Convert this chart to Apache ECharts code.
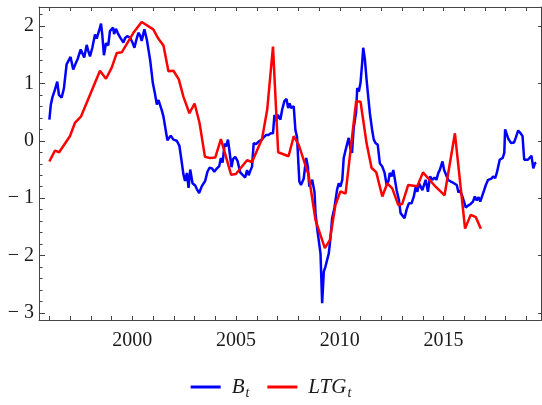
<!DOCTYPE html>
<html><head><meta charset="utf-8">
<script src="https://cdn.jsdelivr.net/npm/echarts@6/dist/echarts.min.js"></script>
<style>html,body{margin:0;padding:0;background:#fff}#c{width:542px;height:405px}</style>
</head><body><div id="c"></div>
<script>
// ---- data ----
const bYears = [1996.00,1996.07,1996.15,1996.27,1996.38,1996.46,1996.59,1996.70,1996.78,1996.83,1996.91,1997.02,1997.10,1997.15,1997.26,1997.36,1997.51,1997.60,1997.68,1997.80,1997.87,1997.96,1998.07,1998.20,1998.28,1998.36,1998.44,1998.49,1998.55,1998.63,1998.73,1998.84,1998.92,1999.00,1999.07,1999.12,1999.21,1999.29,1999.41,1999.49,1999.57,1999.65,1999.75,1999.89,2000.02,2000.10,2000.18,2000.29,2000.37,2000.45,2000.58,2000.70,2000.86,2000.99,2001.10,2001.18,2001.26,2001.34,2001.42,2001.50,2001.61,2001.69,2001.77,2001.85,2001.98,2002.14,2002.27,2002.38,2002.46,2002.54,2002.63,2002.71,2002.79,2002.90,2003.03,2003.11,2003.22,2003.35,2003.51,2003.62,2003.72,2003.84,2003.95,2004.08,2004.19,2004.27,2004.35,2004.45,2004.52,2004.61,2004.69,2004.78,2004.85,2004.96,2005.07,2005.20,2005.33,2005.44,2005.53,2005.61,2005.69,2005.77,2005.85,2005.96,2006.10,2006.25,2006.33,2006.44,2006.56,2006.68,2006.78,2006.85,2006.92,2007.01,2007.14,2007.22,2007.33,2007.43,2007.51,2007.58,2007.66,2007.78,2007.86,2007.94,2008.05,2008.13,2008.26,2008.38,2008.46,2008.53,2008.67,2008.78,2008.83,2008.91,2008.99,2009.07,2009.15,2009.23,2009.31,2009.39,2009.47,2009.55,2009.63,2009.74,2009.87,2009.95,2010.03,2010.12,2010.19,2010.28,2010.35,2010.43,2010.51,2010.59,2010.67,2010.79,2010.84,2010.92,2011.00,2011.08,2011.13,2011.21,2011.29,2011.37,2011.45,2011.57,2011.64,2011.72,2011.83,2011.93,2012.05,2012.16,2012.26,2012.34,2012.41,2012.50,2012.58,2012.66,2012.74,2012.85,2012.93,2013.01,2013.12,2013.22,2013.33,2013.46,2013.57,2013.66,2013.74,2013.82,2013.90,2013.98,2014.06,2014.14,2014.25,2014.35,2014.46,2014.57,2014.66,2014.75,2014.82,2014.95,2015.03,2015.11,2015.22,2015.35,2015.46,2015.55,2015.64,2015.72,2015.79,2015.88,2015.99,2016.07,2016.18,2016.31,2016.42,2016.51,2016.60,2016.69,2016.77,2016.86,2016.96,2017.04,2017.15,2017.23,2017.31,2017.39,2017.49,2017.57,2017.64,2017.71,2017.79,2017.85,2017.93,2017.97,2018.05,2018.13,2018.26,2018.40,2018.49,2018.60,2018.72,2018.81,2018.89,2018.97,2019.07,2019.16,2019.24,2019.33,2019.41,2019.47];
const bValues = [0.37,0.63,0.76,0.89,1.03,0.80,0.75,0.91,0.92,1.33,1.32,1.46,1.45,1.24,1.34,1.42,1.59,1.56,1.45,1.67,1.57,1.47,1.62,1.85,1.78,1.76,1.97,2.04,1.85,1.49,1.70,1.66,1.91,1.92,1.97,1.86,1.95,1.88,1.80,1.78,1.71,1.79,1.82,1.80,1.70,1.62,1.74,1.88,1.84,1.74,1.94,1.76,1.40,1.00,0.80,0.63,0.71,0.74,0.53,0.42,0.18,0.01,0.04,0.09,0.02,0.00,-0.09,-0.37,-0.58,-0.70,-0.56,-0.82,-0.50,-0.74,-0.78,-0.84,-0.91,-0.79,-0.70,-0.54,-0.47,-0.48,-0.54,-0.48,-0.44,-0.30,-0.38,-0.05,-0.10,0.02,-0.20,-0.46,-0.32,-0.28,-0.35,-0.55,-0.60,-0.64,-0.51,-0.60,-0.52,-0.45,-0.04,-0.06,-0.01,0.02,0.06,0.10,0.10,0.13,0.13,0.45,0.34,0.45,0.37,0.54,0.69,0.73,0.57,0.65,0.57,0.60,0.19,0.06,-0.71,-0.77,-0.66,-0.30,-0.45,-0.80,-0.68,-0.89,-1.26,-1.53,-1.53,-1.96,-2.83,-2.28,-2.19,-2.16,-1.96,-1.70,-1.35,-1.17,-0.85,-0.74,-0.80,-0.68,-0.30,-0.16,-0.13,0.05,-0.13,-0.21,0.22,0.51,0.92,0.86,1.01,1.36,1.62,1.42,1.07,0.77,0.48,0.16,0.02,-0.04,-0.07,-0.39,-0.45,-0.56,-0.77,-0.71,-0.56,-0.62,-0.51,-0.68,-0.86,-1.03,-1.26,-1.29,-1.35,-1.20,-1.09,-1.09,-0.97,-0.80,-0.89,-0.74,-0.73,-0.86,-0.87,-0.68,-0.89,-0.62,-0.68,-0.64,-0.68,-0.56,-0.51,-0.36,-0.51,-0.48,-0.68,-0.71,-0.73,-0.74,-0.77,-0.90,-0.86,-0.94,-1.06,-1.16,-1.13,-1.10,-1.06,-0.97,-1.04,-0.98,-1.06,-1.05,-0.86,-0.77,-0.68,-0.65,-0.66,-0.62,-0.65,-0.56,-0.56,-0.33,-0.36,-0.30,-0.21,0.20,0.19,0.03,-0.04,-0.03,0.06,0.18,0.13,0.08,-0.33,-0.36,-0.33,-0.36,-0.26,-0.48,-0.39,-0.38];
const lYears = [1996.00,1996.27,1996.47,1996.99,1997.23,1997.52,1998.44,1998.73,1999.00,1999.25,1999.49,2000.05,2000.45,2001.01,2001.25,2001.50,2001.74,2001.98,2002.24,2002.46,2002.75,2003.00,2003.24,2003.50,2003.75,2004.00,2004.27,2004.76,2004.99,2005.53,2005.77,2006.25,2006.50,2006.78,2007.03,2007.53,2007.78,2008.02,2008.50,2008.83,2009.28,2009.52,2009.79,2010.03,2010.28,2010.79,2011.00,2011.29,2011.53,2011.76,2012.05,2012.29,2012.53,2012.82,2013.01,2013.30,2013.74,2014.01,2014.62,2015.05,2015.55,2016.04,2016.31,2016.56,2016.80];
const lValues = [-0.36,-0.17,-0.20,0.08,0.31,0.42,1.22,1.08,1.27,1.53,1.54,1.88,2.07,1.94,1.78,1.66,1.21,1.22,1.07,0.77,0.48,0.65,0.31,-0.28,-0.30,-0.29,0.03,-0.59,-0.58,-0.34,-0.37,0.03,0.54,1.64,-0.20,-0.27,0.08,-0.07,-0.60,-1.38,-1.87,-1.73,-1.12,-0.88,-0.92,0.69,0.68,-0.04,-0.47,-0.55,-0.97,-0.74,-0.83,-1.12,-1.10,-0.77,-0.79,-0.55,-0.80,-0.95,0.13,-1.53,-1.29,-1.33,-1.53];
const seriesNames = ['B_t', 'LTG_t'];
const xLabelYears = [2000, 2005, 2010, 2015];
const xTickYears = [1996,1997,1998,1999,2000,2001,2002,2003,2004,2005,2006,2007,2008,2009,2010,2011,2012,2013,2014,2015,2016,2017,2018,2019];
const yMajorTicks = [-3, -2, -1, 0, 1, 2];
const yMinorTicks = [-3.0,-2.8,-2.6,-2.4,-2.2,-2.0,-1.8,-1.6,-1.4,-1.2,-1.0,-0.8,-0.6,-0.4,-0.2,0,0.2,0.4,0.6,0.8,1.0,1.2,1.4,1.6,1.8,2.0,2.2];

// ---- chart ----
const X_MIN = 1995.5, X_MAX = 2019.7, Y_MIN = -3.13, Y_MAX = 2.33;
const FRAME = '#444';
const FONT = 'Liberation Serif';
const chart = echarts.init(document.getElementById('c'), null, {renderer: 'canvas'});
const pair = (xs, ys) => xs.map((x, i) => [x, ys[i]]);
const fmtY = v => v < 0 ? '\u2212 ' + Math.abs(v) : String(v);

chart.setOption({
  animation: false,
  backgroundColor: '#fff',
  grid: {left: 39, right: 1, top: 7, bottom: 84.5},
  xAxis: [
    {type: 'value', position: 'bottom', min: X_MIN, max: X_MAX,
     axisLine: {onZero: false, lineStyle: {color: FRAME, width: 1}},
     axisTick: {inside: true, length: 4.5, customValues: xTickYears, lineStyle: {color: FRAME}},
     axisLabel: {customValues: xLabelYears, formatter: v => String(v), fontFamily: FONT, fontSize: 20, color: '#1a1a1a', margin: 10},
     splitLine: {show: false}},
    {type: 'value', position: 'top', min: X_MIN, max: X_MAX,
     axisLine: {onZero: false, lineStyle: {color: FRAME, width: 1}},
     axisTick: {inside: true, length: 4, customValues: xTickYears, lineStyle: {color: FRAME}},
     axisLabel: {show: false}, splitLine: {show: false}}
  ],
  yAxis: [
    {type: 'value', position: 'left', min: Y_MIN, max: Y_MAX,
     axisLine: {onZero: false, lineStyle: {color: FRAME, width: 1}},
     axisTick: {inside: true, length: 6, customValues: yMajorTicks, lineStyle: {color: FRAME}},
     axisLabel: {customValues: yMajorTicks, formatter: fmtY, fontFamily: FONT, fontSize: 20, color: '#1a1a1a', margin: 5},
     splitLine: {show: false}},
    {type: 'value', position: 'left', min: Y_MIN, max: Y_MAX,
     axisLine: {show: false, onZero: false},
     axisTick: {inside: true, length: 3.5, customValues: yMinorTicks, lineStyle: {color: FRAME}},
     axisLabel: {show: false}, splitLine: {show: false}},
    {type: 'value', position: 'right', min: Y_MIN, max: Y_MAX,
     axisLine: {onZero: false, lineStyle: {color: FRAME, width: 1}},
     axisTick: {inside: true, length: 3, customValues: yMajorTicks, lineStyle: {color: FRAME}},
     axisLabel: {show: false}, splitLine: {show: false}}
  ],
  legend: {
    bottom: 0, left: 'center', itemWidth: 30, itemHeight: 3, itemGap: 18, icon: 'rect',
    data: seriesNames,
    formatter: n => n === 'B_t' ? '{i|B}{s|t}' : '{i|LTG}{s|t}',
    textStyle: {rich: {
      i: {fontFamily: FONT, fontStyle: 'italic', fontSize: 21, color: '#1a1a1a', padding: [0, 0, 0, 6]},
      s: {fontFamily: FONT, fontStyle: 'italic', fontSize: 14, color: '#1a1a1a', padding: [12, 0, 0, 1]}
    }}
  },
  series: [
    {name: 'B_t', type: 'line', xAxisIndex: 0, yAxisIndex: 0, data: pair(bYears, bValues),
     showSymbol: false, symbol: 'none', itemStyle: {color: '#0000ff'}, lineStyle: {color: '#0000ff', width: 2.5}, z: 2},
    {name: 'LTG_t', type: 'line', xAxisIndex: 0, yAxisIndex: 0, data: pair(lYears, lValues),
     showSymbol: false, symbol: 'none', itemStyle: {color: '#ff0000'}, lineStyle: {color: '#ff0000', width: 2.5}, z: 3}
  ]
});
</script></body></html>
